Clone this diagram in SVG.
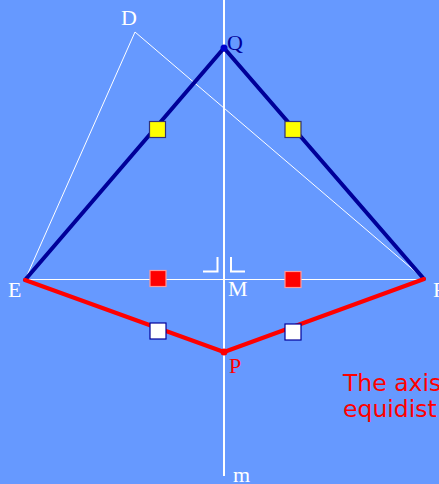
<svg xmlns="http://www.w3.org/2000/svg" width="439" height="484" viewBox="0 0 439 484">
<style>
.lbl{font-family:"Liberation Serif","Times New Roman",serif;font-size:22px;fill:#ffffff}
.thin{stroke:#ffffff;stroke-width:1;fill:none}
.blue{stroke:#000099;stroke-width:4;fill:none;stroke-linecap:round}
.red{stroke:#ff0000;stroke-width:4;fill:none;stroke-linecap:round}
.sq{stroke-width:1.2}
.note{font-family:"DejaVu Sans",Verdana,sans-serif;font-size:23.5px;fill:#ff0000}
</style>
<rect x="0" y="0" width="439" height="484" fill="#6699ff"/>
<g id="connectors">
<line class="thin" x1="135" y1="32" x2="25" y2="280"/>
<line class="thin" x1="135" y1="32" x2="424" y2="279"/>
<line class="thin" x1="25" y1="279.5" x2="424" y2="279.5"/>
<line x1="224" y1="0" x2="224" y2="476" stroke="#ffffff" stroke-width="2"/>
<polyline points="203,271.5 217.5,271.5 217.5,257" stroke="#ffffff" stroke-width="2" fill="none"/>
<polyline points="231,257 231,271.5 245,271.5" stroke="#ffffff" stroke-width="2" fill="none"/>
<line class="blue" x1="25" y1="280" x2="224" y2="48"/>
<line class="blue" x1="224" y1="48" x2="424" y2="279"/>
<line class="red" x1="25" y1="280" x2="224" y2="352"/>
<line class="red" x1="224" y1="352" x2="424" y2="279"/>
</g>
<g id="D"><text class="lbl" x="121" y="25">D</text></g>
<g id="Q"><circle cx="224" cy="48" r="3.5" fill="#0000cc"/><text class="lbl" x="227" y="50" style="fill:#000099">Q</text></g>
<g id="E"><text class="lbl" x="8" y="297">E</text></g>
<g id="F"><text class="lbl" x="433" y="297">F</text></g>
<g id="M"><text class="lbl" x="228" y="296">M</text></g>
<g id="P"><circle cx="224" cy="352" r="3.5" fill="#ff0000"/><text class="lbl" x="229" y="373" style="fill:#ff0000">P</text></g>
<g id="m"><text class="lbl" x="233" y="482">m</text></g>
<g id="squares">
<rect class="sq" x="149.5" y="121.5" width="16" height="16" fill="#ffff00" stroke="#333377"/>
<rect class="sq" x="285" y="121.5" width="16" height="16" fill="#ffff00" stroke="#333377"/>
<rect class="sq" x="150" y="270.5" width="16" height="16" fill="#ff0000" stroke="#ff9999"/>
<rect class="sq" x="285" y="271.5" width="16" height="16" fill="#ff0000" stroke="#ff9999"/>
<rect class="sq" x="150" y="323" width="16" height="16" fill="#ffffff" stroke="#000099"/>
<rect class="sq" x="285" y="324" width="16" height="16" fill="#ffffff" stroke="#000099"/>
</g>
<g id="note">
<text class="note" x="343" y="391">The axis</text>
<text class="note" x="343" y="417">equidist</text>
</g>
</svg>
